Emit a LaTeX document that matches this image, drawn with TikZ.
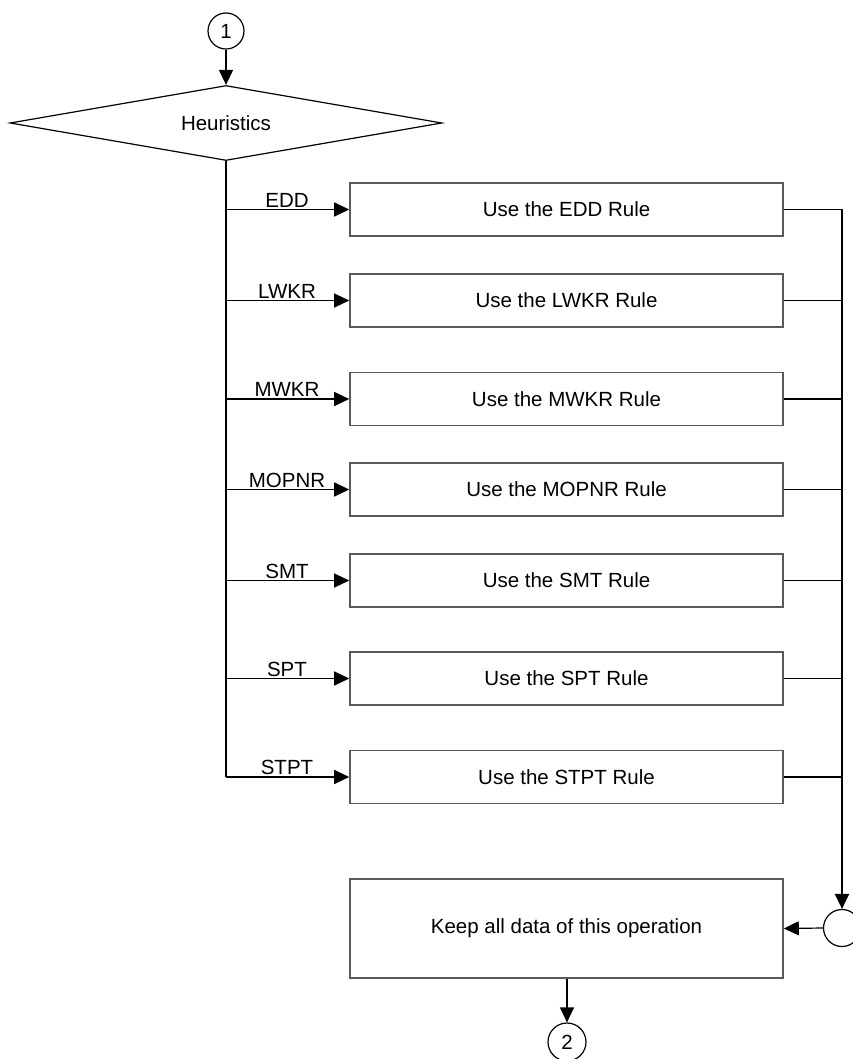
\documentclass[tikz,border=0pt]{standalone}
\usepackage{fontspec}
\setmainfont{Liberation Sans}
\usetikzlibrary{shapes.geometric,arrows.meta}
\begin{document}
\begin{tikzpicture}[x=1pt,y=-1pt,
  font=\fontsize{20.5}{24}\selectfont,
  tip/.style={-{Triangle[length=15pt,width=14pt]}},
  thinline/.style={line width=1.2pt},
  boldline/.style={line width=2.2pt},
  rulebox/.style={draw=black!65,line width=1.6pt,rectangle,minimum width=433pt,minimum height=53pt,inner sep=0pt},
  conn/.style={draw,circle,line width=1.2pt,minimum size=36pt,inner sep=0pt},
  lbl/.style={anchor=south,inner sep=2pt}
]
\useasboundingbox (0,0) rectangle (853,1059);
\fill[white] (0,0) rectangle (853,1059);

\node[conn] (c1) at (226,31) {1};
\node[draw,diamond,aspect=5.7,line width=1.2pt,minimum width=432pt,minimum height=75pt,inner sep=0pt] (dia) at (226,123) {Heuristics};

\node[rulebox] (b1) at (566.5,209.5) {Use the EDD Rule};
\node[rulebox] (b2) at (566.5,300.5) {Use the LWKR Rule};
\node[rulebox] (b3) at (566.5,399) {Use the MWKR Rule};
\node[rulebox] (b4) at (566.5,489.5) {Use the MOPNR Rule};
\node[rulebox] (b5) at (566.5,580.5) {Use the SMT Rule};
\node[rulebox] (b6) at (566.5,678.5) {Use the SPT Rule};
\node[rulebox] (b7) at (566.5,777) {Use the STPT Rule};

\node[rulebox,minimum height=99pt] (keep) at (566.5,928.5) {Keep all data of this operation};
\node[conn,minimum size=37pt] (c3) at (842,928) {};
\node[conn,minimum size=38pt] (c2) at (567,1042) {2};

\draw[thinline,tip] (c1.south) -- (dia.north);
\draw[boldline] (dia.south) -- (b7.west -| dia.south);

\foreach \b/\t in {b1/EDD,b2/LWKR,b3/MWKR,b4/MOPNR,b5/SMT,b6/SPT,b7/STPT}{
  \draw[thinline,tip] (\b.west -| dia.south) -- (\b.west);
  \node[lbl] at ([xshift=61pt]\b.west -| dia.south) {\t};
  \draw[thinline] (\b.east) -- (\b.east -| c3.north);
}

\draw[boldline,tip] (b1.east -| c3.north) -- (c3.north);
\draw[thinline,tip] (c3.west) -- (keep.east);
\draw[thinline,tip] (keep.south -| c2.north) -- (c2.north);
\end{tikzpicture}
\end{document}
